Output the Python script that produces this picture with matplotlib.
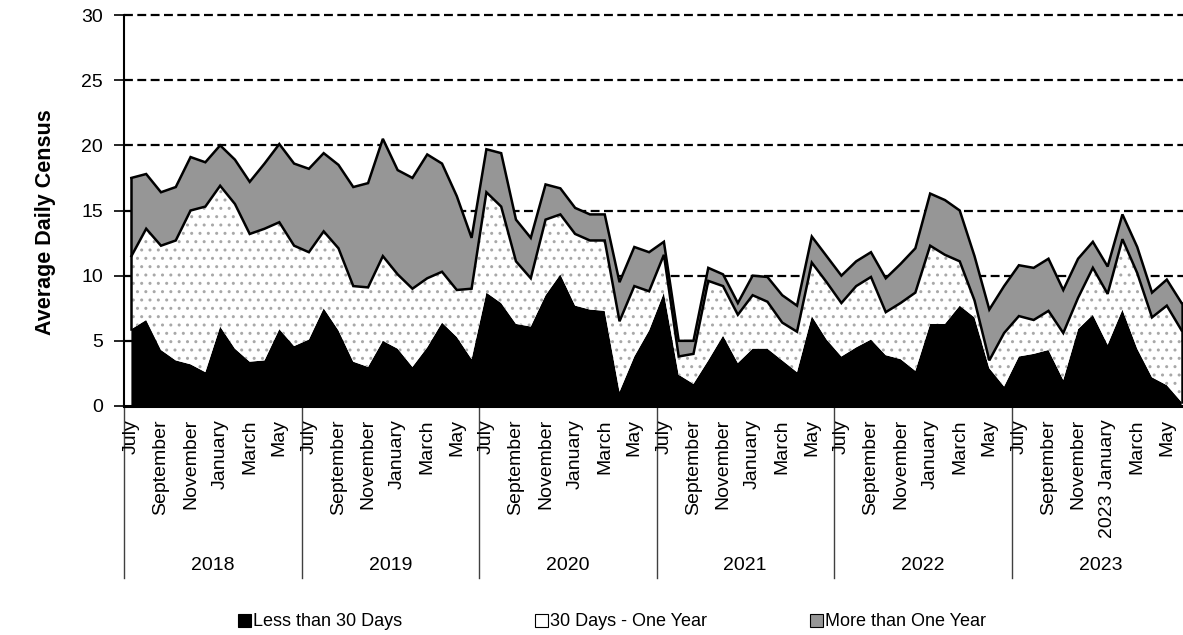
import matplotlib
matplotlib.use("Agg")
import matplotlib.pyplot as plt
import matplotlib.transforms as mtransforms
from matplotlib.patches import Patch
import numpy as np

plt.rcParams['font.family'] = ['Liberation Sans', 'DejaVu Sans']

years = ['2018', '2019', '2020', '2021', '2022', '2023']
months = ['July', '', 'September', '', 'November', '', 'January', '', 'March', '', 'May', '']
months_last = ['July', '', 'September', '', 'November', '', '2023 January', '', 'March', '', 'May', '']

less_30 = [5.9, 6.6, 4.3, 3.5, 3.2, 2.6, 6.1, 4.4, 3.4, 3.5, 5.9, 4.6,
           5.1, 7.5, 5.8, 3.4, 3.0, 5.0, 4.4, 3.0, 4.5, 6.4, 5.3, 3.6,
           8.7, 7.9, 6.3, 6.1, 8.5, 10.1, 7.7, 7.4, 7.3, 1.1, 3.8, 5.8,
           8.7, 2.4, 1.7, 3.5, 5.4, 3.3, 4.4, 4.4, 3.5, 2.6, 6.9, 5.1,
           3.8, 4.5, 5.1, 3.9, 3.6, 2.7, 6.3, 6.3, 7.7, 6.8, 2.9, 1.5,
           3.8, 4.0, 4.3, 2.0, 5.9, 7.0, 4.7, 7.4, 4.4, 2.2, 1.6, 0.3]
days30_1yr = [5.6, 7.0, 8.0, 9.2, 11.8, 12.7, 10.8, 11.1, 9.8, 10.1, 8.2, 7.7,
              6.7, 5.9, 6.3, 5.8, 6.1, 6.5, 5.7, 6.0, 5.3, 3.9, 3.6, 5.4,
              7.7, 7.4, 4.8, 3.7, 5.8, 4.6, 5.5, 5.3, 5.4, 5.4, 5.4, 3.0,
              2.9, 1.4, 2.3, 6.1, 3.8, 3.7, 4.1, 3.6, 2.9, 3.1, 4.1, 4.4,
              4.1, 4.7, 4.8, 3.3, 4.3, 6.0, 6.0, 5.3, 3.4, 1.3, 0.6, 4.1,
              3.1, 2.6, 3.0, 3.6, 2.4, 3.6, 3.9, 5.4, 5.8, 4.6, 6.1, 5.5]
more_1yr = [6.0, 4.2, 4.1, 4.1, 4.1, 3.4, 3.1, 3.4, 4.0, 5.0, 6.0, 6.3,
            6.4, 6.0, 6.4, 7.6, 8.0, 9.0, 8.0, 8.5, 9.5, 8.3, 7.2, 3.9,
            3.3, 4.1, 3.2, 3.1, 2.7, 2.0, 2.0, 2.0, 2.0, 3.0, 3.0, 3.0,
            1.0, 1.2, 1.0, 1.0, 0.9, 0.9, 1.5, 1.9, 2.1, 2.0, 2.0, 2.0,
            2.1, 1.9, 1.9, 2.6, 3.0, 3.4, 4.0, 4.2, 3.9, 3.4, 3.9, 3.6,
            3.9, 4.0, 4.0, 3.3, 3.0, 2.0, 2.1, 1.9, 2.0, 1.9, 2.0, 2.1]

W, H = 1183, 635
fig = plt.figure(figsize=(W / 100, H / 100), dpi=100)
x0, x1 = 124, 1189
y0, y1 = 406, 15
ax = fig.add_axes([x0 / W, (H - y0) / H, (x1 - x0) / W, (y0 - y1) / H])

n = len(less_30)
x = np.arange(n)
b = np.array(less_30)
m = b + np.array(days30_1yr)
t = m + np.array(more_1yr)

ax.set_xlim(-0.5, n - 0.5)
ax.set_ylim(0, 30)

for yv in range(5, 31, 5):
    ax.axhline(yv, color='black', lw=1.6, ls=(0, (4, 2)), zorder=0.5, clip_on=False)

ax.fill_between(x, 0, b, facecolor='black', lw=0, zorder=2)
ax.fill_between(x, b, m, facecolor='white', edgecolor='#a8a8a8', hatch='..', lw=0, zorder=2)
ax.fill_between(x, m, t, facecolor='#969696', lw=0, zorder=2)
ax.plot(x, m, color='black', lw=1.8, zorder=3, solid_joinstyle='miter')
ax.plot(x, t, color='black', lw=1.8, zorder=3, solid_joinstyle='miter')
ax.plot([x[0], x[0]], [b[0], t[0]], color='black', lw=1.8, zorder=3)
ax.plot([x[-1], x[-1]], [b[-1], t[-1]], color='black', lw=1.8, zorder=3)

ax.spines['top'].set_visible(False)
ax.spines['right'].set_visible(False)
ax.spines['left'].set_linewidth(1.5)
ax.spines['bottom'].set_linewidth(2.2)
ax.spines['bottom'].set_zorder(4)
ax.set_yticks(range(0, 31, 5))
ax.tick_params(axis='y', labelsize=14, length=7, width=1.2, direction='out', pad=8)
ax.set_xticks([])

trans = mtransforms.blended_transform_factory(ax.transData, ax.transAxes)
px = 1.0 / (y0 - y1)
for g, yr in enumerate(years):
    labels = months_last if g == len(years) - 1 else months
    for k, lab in enumerate(labels):
        if lab:
            ax.text(g * 12 + k, -13 * px, lab, transform=trans, rotation=90,
                    ha='center', va='top', fontsize=14, clip_on=False)
    ax.text(g * 12 + 5.5, -160 * px, yr, transform=trans, ha='center', va='center',
            fontsize=14, clip_on=False)
for g in range(len(years) + 1):
    ax.plot([g * 12 - 0.5] * 2, [0, -172 * px], transform=trans, color='#404040',
            lw=1.0, clip_on=False)

ax.set_ylabel('Average Daily Census', fontsize=15.5, fontweight='bold')
ax.yaxis.set_label_coords((56 - x0) / (x1 - x0), (y0 - 222) / (y0 - y1))

handles = [Patch(facecolor='black', edgecolor='black', lw=0.8),
           Patch(facecolor='white', edgecolor='black', lw=0.8),
           Patch(facecolor='#969696', edgecolor='black', lw=0.8)]
names = ['Less than 30 Days', '30 Days - One Year', 'More than One Year']
starts = [238, 535, 810]
for h, nm, sx in zip(handles, names, starts):
    fig.legend(handles=[h], labels=[nm], loc='center left',
               bbox_to_anchor=(sx / W, 1 - 622 / H), frameon=False, fontsize=13,
               handlelength=0.7, handleheight=0.7, handletextpad=0.15,
               borderpad=0, borderaxespad=0)

fig.savefig('out.png', dpi=100)
